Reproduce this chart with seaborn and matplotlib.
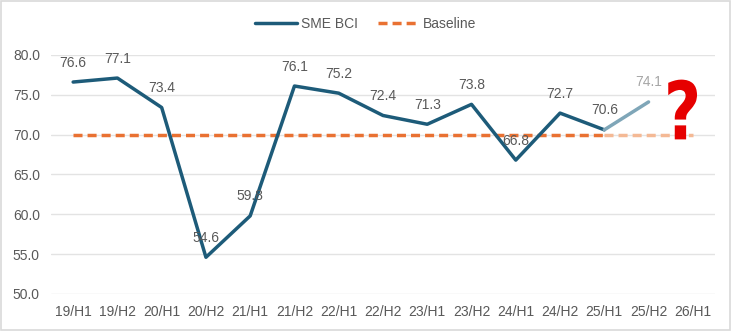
import matplotlib
matplotlib.use("Agg")
import matplotlib.pyplot as plt
import matplotlib.transforms as mtransforms
import seaborn as sns
import pandas as pd
import numpy as np
from matplotlib.patches import Rectangle, PathPatch
from matplotlib.textpath import TextPath
from matplotlib.font_manager import FontProperties

periods = ["19/H1", "19/H2", "20/H1", "20/H2", "21/H1", "21/H2", "22/H1", "22/H2",
           "23/H1", "23/H2", "24/H1", "24/H2", "25/H1", "25/H2", "26/H1"]
bci = [76.6, 77.1, 73.4, 54.6, 59.8, 76.1, 75.2, 72.4, 71.3, 73.8, 66.8, 72.7, 70.6, 74.1, np.nan]
baseline = [70.0] * len(periods)

DARK = "#1D5B79"
LIGHT = "#7FA6B8"
ORANGE = "#E97132"
ORANGE_LIGHT = "#F4B995"
TEXT = "#595959"
LW = 2.5
DASH = (0, (2.6, 1.45))

sns.set_theme(style="white")
plt.rcParams["font.family"] = ["Liberation Sans", "DejaVu Sans"]

df = pd.DataFrame({"pos": np.arange(len(periods)), "period": periods,
                   "bci": bci, "baseline": baseline})
last_actual = 12  # 25/H1: last settled half-year, after which values are provisional

fig = plt.figure(figsize=(7.32, 3.31), dpi=100)
ax = fig.add_axes([0.0697, 0.112, 0.907, 0.722])

# baseline: settled part, then a faded part over the provisional range
base_a = df[df.pos <= last_actual]
base_b = df[df.pos >= last_actual]
sns.lineplot(data=base_a, x="pos", y="baseline", ax=ax, color=ORANGE, lw=LW,
             linestyle=DASH, label="Baseline", zorder=2)
sns.lineplot(data=base_b, x="pos", y="baseline", ax=ax, color=ORANGE_LIGHT, lw=LW,
             linestyle=DASH, zorder=2, legend=False)

# SME BCI: settled part dark, provisional segment faded
bci_a = df[df.pos <= last_actual]
bci_b = df[(df.pos >= last_actual) & df.bci.notna()]
sns.lineplot(data=bci_a, x="pos", y="bci", ax=ax, color=DARK, lw=LW,
             label="SME BCI", zorder=3)
sns.lineplot(data=bci_b, x="pos", y="bci", ax=ax, color=LIGHT, lw=LW,
             zorder=3, legend=False)

# value labels
for p, v in zip(df.pos, df.bci):
    if np.isnan(v):
        continue
    col = "#A6A6A6" if p > last_actual else TEXT
    ax.annotate(f"{v:.1f}", (p, v), xytext=(0, 9), textcoords="offset points",
                ha="center", va="bottom", fontsize=10, color=col, zorder=4)

ax.set_xlim(-0.5, len(periods) - 0.5)
ax.set_ylim(50, 80)
ax.set_yticks(np.arange(50, 80.1, 5))
ax.set_yticklabels([f"{t:.1f}" for t in np.arange(50, 80.1, 5)])
ax.set_xticks(df.pos)
ax.set_xticklabels(periods)
ax.tick_params(axis="both", labelsize=10, colors=TEXT, length=0, pad=8)
ax.yaxis.grid(True, color="#E3E3E3", lw=1)
ax.xaxis.grid(False)
for s in ax.spines.values():
    s.set_visible(False)
ax.set_xlabel("")
ax.set_ylabel("")

# big red question mark over the coming half-year (slightly condensed glyph)
qpath = TextPath((0, 0), "?", size=58,
                 prop=FontProperties(family="DejaVu Sans", weight="bold"))
qb = qpath.get_extents()
anchor = ax.transData.transform((13.77, 69.4))
qtrans = (mtransforms.Affine2D()
          .translate(-(qb.x0 + qb.x1) / 2, -qb.y0)
          .scale(0.80 * fig.dpi / 72, fig.dpi / 72)
          .translate(*anchor))
ax.add_patch(PathPatch(qpath, transform=qtrans, facecolor="#E60000",
                       edgecolor="none", zorder=5, clip_on=False))

handles, labels = ax.get_legend_handles_labels()
if ax.get_legend() is not None:
    ax.get_legend().remove()
order = [labels.index("SME BCI"), labels.index("Baseline")]
leg = fig.legend([handles[i] for i in order], [labels[i] for i in order],
                 loc="center", bbox_to_anchor=(0.5, 0.928), ncol=2, frameon=False,
                 fontsize=10, handlelength=3.0, columnspacing=1.4, handletextpad=0.3)
for t in leg.get_texts():
    t.set_color(TEXT)

fig.patches.append(Rectangle((0.002, 0.003), 0.995, 0.994, transform=fig.transFigure,
                             fill=False, edgecolor="#D9D9D9", lw=1.2))

fig.savefig("out.png", dpi=100)
